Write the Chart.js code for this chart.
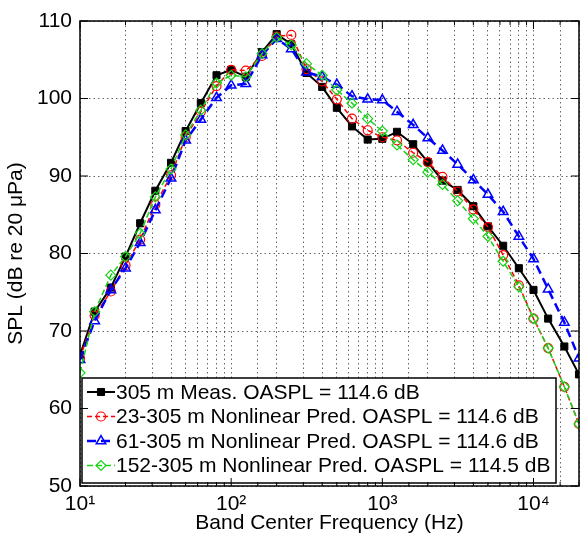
<!DOCTYPE html>
<html lang="en">
<head>
<meta charset="UTF-8">
<title>SPL spectra</title>
<script src="https://cdn.jsdelivr.net/npm/chart.js"></script>
<style>
  body { margin: 0; background: #fff; }
  #wrap { width: 586px; height: 535px; }
</style>
</head>
<body>
<div id="wrap"><canvas id="splChart" width="586" height="535"></canvas></div>
<script>
// one-third octave band centre frequencies (Hz)
const freqs = [10, 12.5, 16, 20, 25, 31.5, 40, 50, 63, 80, 100, 125, 160, 200, 250, 315, 400, 500, 630, 800,
               1000, 1250, 1600, 2000, 2500, 3150, 4000, 5000, 6300, 8000, 10000, 12500, 16000, 20000];

const meas305 = [66.9, 72.5, 75.6, 79.6, 83.9, 88.1, 91.7, 95.8, 99.4, 103.0, 103.7, 102.8, 106.0, 108.3, 107.0, 103.3, 101.5, 98.8, 96.4, 94.7,
                 94.8, 95.7, 94.1, 91.8, 89.4, 88.2, 86.1, 83.5, 81.0, 78.1, 75.3, 71.6, 68.0, 64.4];
const pred23 = [66.5, 72.0, 75.1, 78.5, 81.8, 86.3, 90.1, 95.0, 98.3, 101.6, 103.7, 103.6, 105.5, 108.0, 108.2, 103.8, 102.2, 99.9, 97.4, 95.9,
                95.0, 94.6, 93.0, 91.8, 89.9, 88.0, 85.7, 83.4, 79.8, 75.9, 71.6, 67.8, 62.8, 58.0];
const pred61 = [66.3, 71.3, 75.3, 78.1, 81.4, 85.6, 89.7, 94.6, 97.3, 100.1, 101.7, 101.9, 105.6, 107.7, 106.4, 103.4, 102.8, 101.8, 100.3, 99.9,
                99.8, 98.3, 96.6, 94.9, 93.3, 91.5, 89.5, 87.6, 85.4, 82.2, 79.3, 75.4, 71.1, 66.5];
const pred152 = [64.6, 72.5, 77.2, 79.6, 82.6, 87.3, 90.9, 95.3, 98.5, 102.0, 103.0, 102.8, 105.8, 107.9, 106.9, 104.5, 103.0, 101.1, 99.4, 97.4,
                 95.8, 94.0, 92.1, 90.5, 88.9, 86.8, 84.5, 82.2, 79.0, 75.7, 71.6, 67.8, 62.8, 58.0];

const seriesLabels = [
  '305 m Meas. OASPL = 114.6 dB',
  '23-305 m Nonlinear Pred. OASPL = 114.6 dB',
  '61-305 m Nonlinear Pred. OASPL = 114.6 dB',
  '152-305 m Nonlinear Pred. OASPL = 114.5 dB'
];
const yTicks = [50, 60, 70, 80, 90, 100, 110];
const xDecades = [10, 100, 1000, 10000];
const supDigits = ['\u2070', '\u00b9', '\u00b2', '\u00b3', '\u2074'];

const FONT = "'Liberation Sans', Arial, sans-serif";
const FSIZE = 21;

function toPoints(vals) {
  return freqs.map((f, i) => ({ x: f, y: vals[i] }));
}

const GREEN = '#19d219';

// white-box legend in the lower left corner of the plot
const boxLegend = {
  id: 'boxLegend',
  afterDatasetsDraw(chart) {
    const ctx = chart.ctx;
    const area = chart.chartArea;
    const left = area.left + 2, top = area.bottom - 108;
    const w = 474, h = 105, rowH = 24.5;
    ctx.save();
    ctx.fillStyle = '#fff';
    ctx.fillRect(left, top, w, h);
    ctx.lineWidth = 1.5;
    ctx.strokeStyle = '#000';
    ctx.strokeRect(left, top, w, h);
    ctx.font = FSIZE + 'px ' + FONT;
    ctx.textBaseline = 'middle';
    chart.data.datasets.forEach((ds, i) => {
      const y = top + 14 + i * rowH;
      ctx.strokeStyle = ds.borderColor;
      ctx.lineWidth = ds.borderWidth;
      ctx.setLineDash(ds.borderDash || []);
      ctx.beginPath();
      ctx.moveTo(left + 5, y);
      ctx.lineTo(left + 33, y);
      ctx.stroke();
      ctx.setLineDash([]);
      ctx.fillStyle = ds.pointBackgroundColor;
      ctx.lineWidth = ds.pointBorderWidth;
      Chart.helpers.drawPoint(ctx, { pointStyle: ds.pointStyle, radius: ds.pointRadius, borderWidth: ds.pointBorderWidth, rotation: 0 }, left + 19, y);
      ctx.fillStyle = '#000';
      ctx.fillText(ds.label, left + 34, y + 1);
    });
    ctx.restore();
  }
};

// axes box with inward ticks, like the original figure
const frameBox = {
  id: 'frameBox',
  afterDraw(chart) {
    const ctx = chart.ctx;
    const a = chart.chartArea;
    const xs = chart.scales.x, ys = chart.scales.y;
    ctx.save();
    ctx.strokeStyle = '#000';
    ctx.lineWidth = 1;
    ctx.beginPath();
    xs.ticks.forEach(t => {
      const px = xs.getPixelForValue(t.value);
      const len = xDecades.includes(t.value) ? 8 : 4;
      ctx.moveTo(px, a.bottom); ctx.lineTo(px, a.bottom - len);
      ctx.moveTo(px, a.top); ctx.lineTo(px, a.top + len);
    });
    ys.ticks.forEach(t => {
      const py = ys.getPixelForValue(t.value);
      ctx.moveTo(a.left, py); ctx.lineTo(a.left + 8, py);
      ctx.moveTo(a.right, py); ctx.lineTo(a.right - 8, py);
    });
    ctx.stroke();
    ctx.lineWidth = 1.5;
    ctx.strokeRect(a.left, a.top, a.right - a.left, a.bottom - a.top);
    ctx.restore();
  }
};

new Chart(document.getElementById('splChart'), {
  type: 'line',
  data: {
    datasets: [
      {
        label: seriesLabels[0], data: toPoints(meas305), order: 3,
        borderColor: '#000', borderWidth: 2,
        pointStyle: 'rect', pointRadius: 5, pointBackgroundColor: '#000', pointBorderColor: '#000', pointBorderWidth: 1
      },
      {
        label: seriesLabels[1], data: toPoints(pred23), order: 2,
        borderColor: '#ff0000', borderWidth: 1.5, borderDash: [5, 3],
        pointStyle: 'circle', pointRadius: 4.5, pointBackgroundColor: 'rgba(0,0,0,0)', pointBorderColor: '#ff0000', pointBorderWidth: 1.2
      },
      {
        label: seriesLabels[2], data: toPoints(pred61), order: 1,
        borderColor: '#0000ff', borderWidth: 2.5, borderDash: [9, 5],
        pointStyle: 'triangle', pointRadius: 5.5, pointBackgroundColor: 'rgba(0,0,0,0)', pointBorderColor: '#0000ff', pointBorderWidth: 1.5
      },
      {
        label: seriesLabels[3], data: toPoints(pred152), order: 0,
        borderColor: GREEN, borderWidth: 1.5, borderDash: [6, 3],
        pointStyle: 'rectRot', pointRadius: 5, pointBackgroundColor: 'rgba(0,0,0,0)', pointBorderColor: GREEN, pointBorderWidth: 1.2
      }
    ]
  },
  options: {
    responsive: false,
    animation: false,
    devicePixelRatio: 1,
    layout: { padding: { top: 21, right: 4, left: 0, bottom: 0 } },
    plugins: {
      legend: { display: false },
      tooltip: { enabled: false }
    },
    elements: { line: { tension: 0 } },
    scales: {
      x: {
        type: 'logarithmic',
        min: 10, max: 20000,
        afterFit(scale) { scale.height = 49; },
        grid: { color: 'rgba(0,0,0,0.6)', lineWidth: 1, drawTicks: false },
        border: { display: false, dash: [1.5, 3] },
        ticks: {
          autoSkip: false, maxRotation: 0, padding: 6, color: '#000',
          font: { family: FONT, size: FSIZE },
          callback(v) {
            const e = Math.log10(v);
            return Math.abs(e - Math.round(e)) < 1e-9 ? '10' + supDigits[Math.round(e)] : '';
          }
        },
        title: {
          display: true, text: 'Band Center Frequency (Hz)', color: '#000',
          font: { family: FONT, size: FSIZE }, padding: { top: 0, bottom: -1 }
        }
      },
      y: {
        min: 50, max: 110,
        afterFit(scale) { scale.width = 80; },
        afterBuildTicks(scale) { scale.ticks = yTicks.map(v => ({ value: v })); },
        grid: { color: 'rgba(0,0,0,0.6)', lineWidth: 1, drawTicks: false },
        border: { display: false, dash: [1.5, 3] },
        ticks: { padding: 8, color: '#000', font: { family: FONT, size: FSIZE } },
        title: {
          display: true, text: 'SPL (dB re 20 \u03bcPa)', color: '#000',
          font: { family: FONT, size: FSIZE }, padding: { top: 4, bottom: 0 }
        }
      }
    }
  },
  plugins: [boxLegend, frameBox]
});
</script>
</body>
</html>
